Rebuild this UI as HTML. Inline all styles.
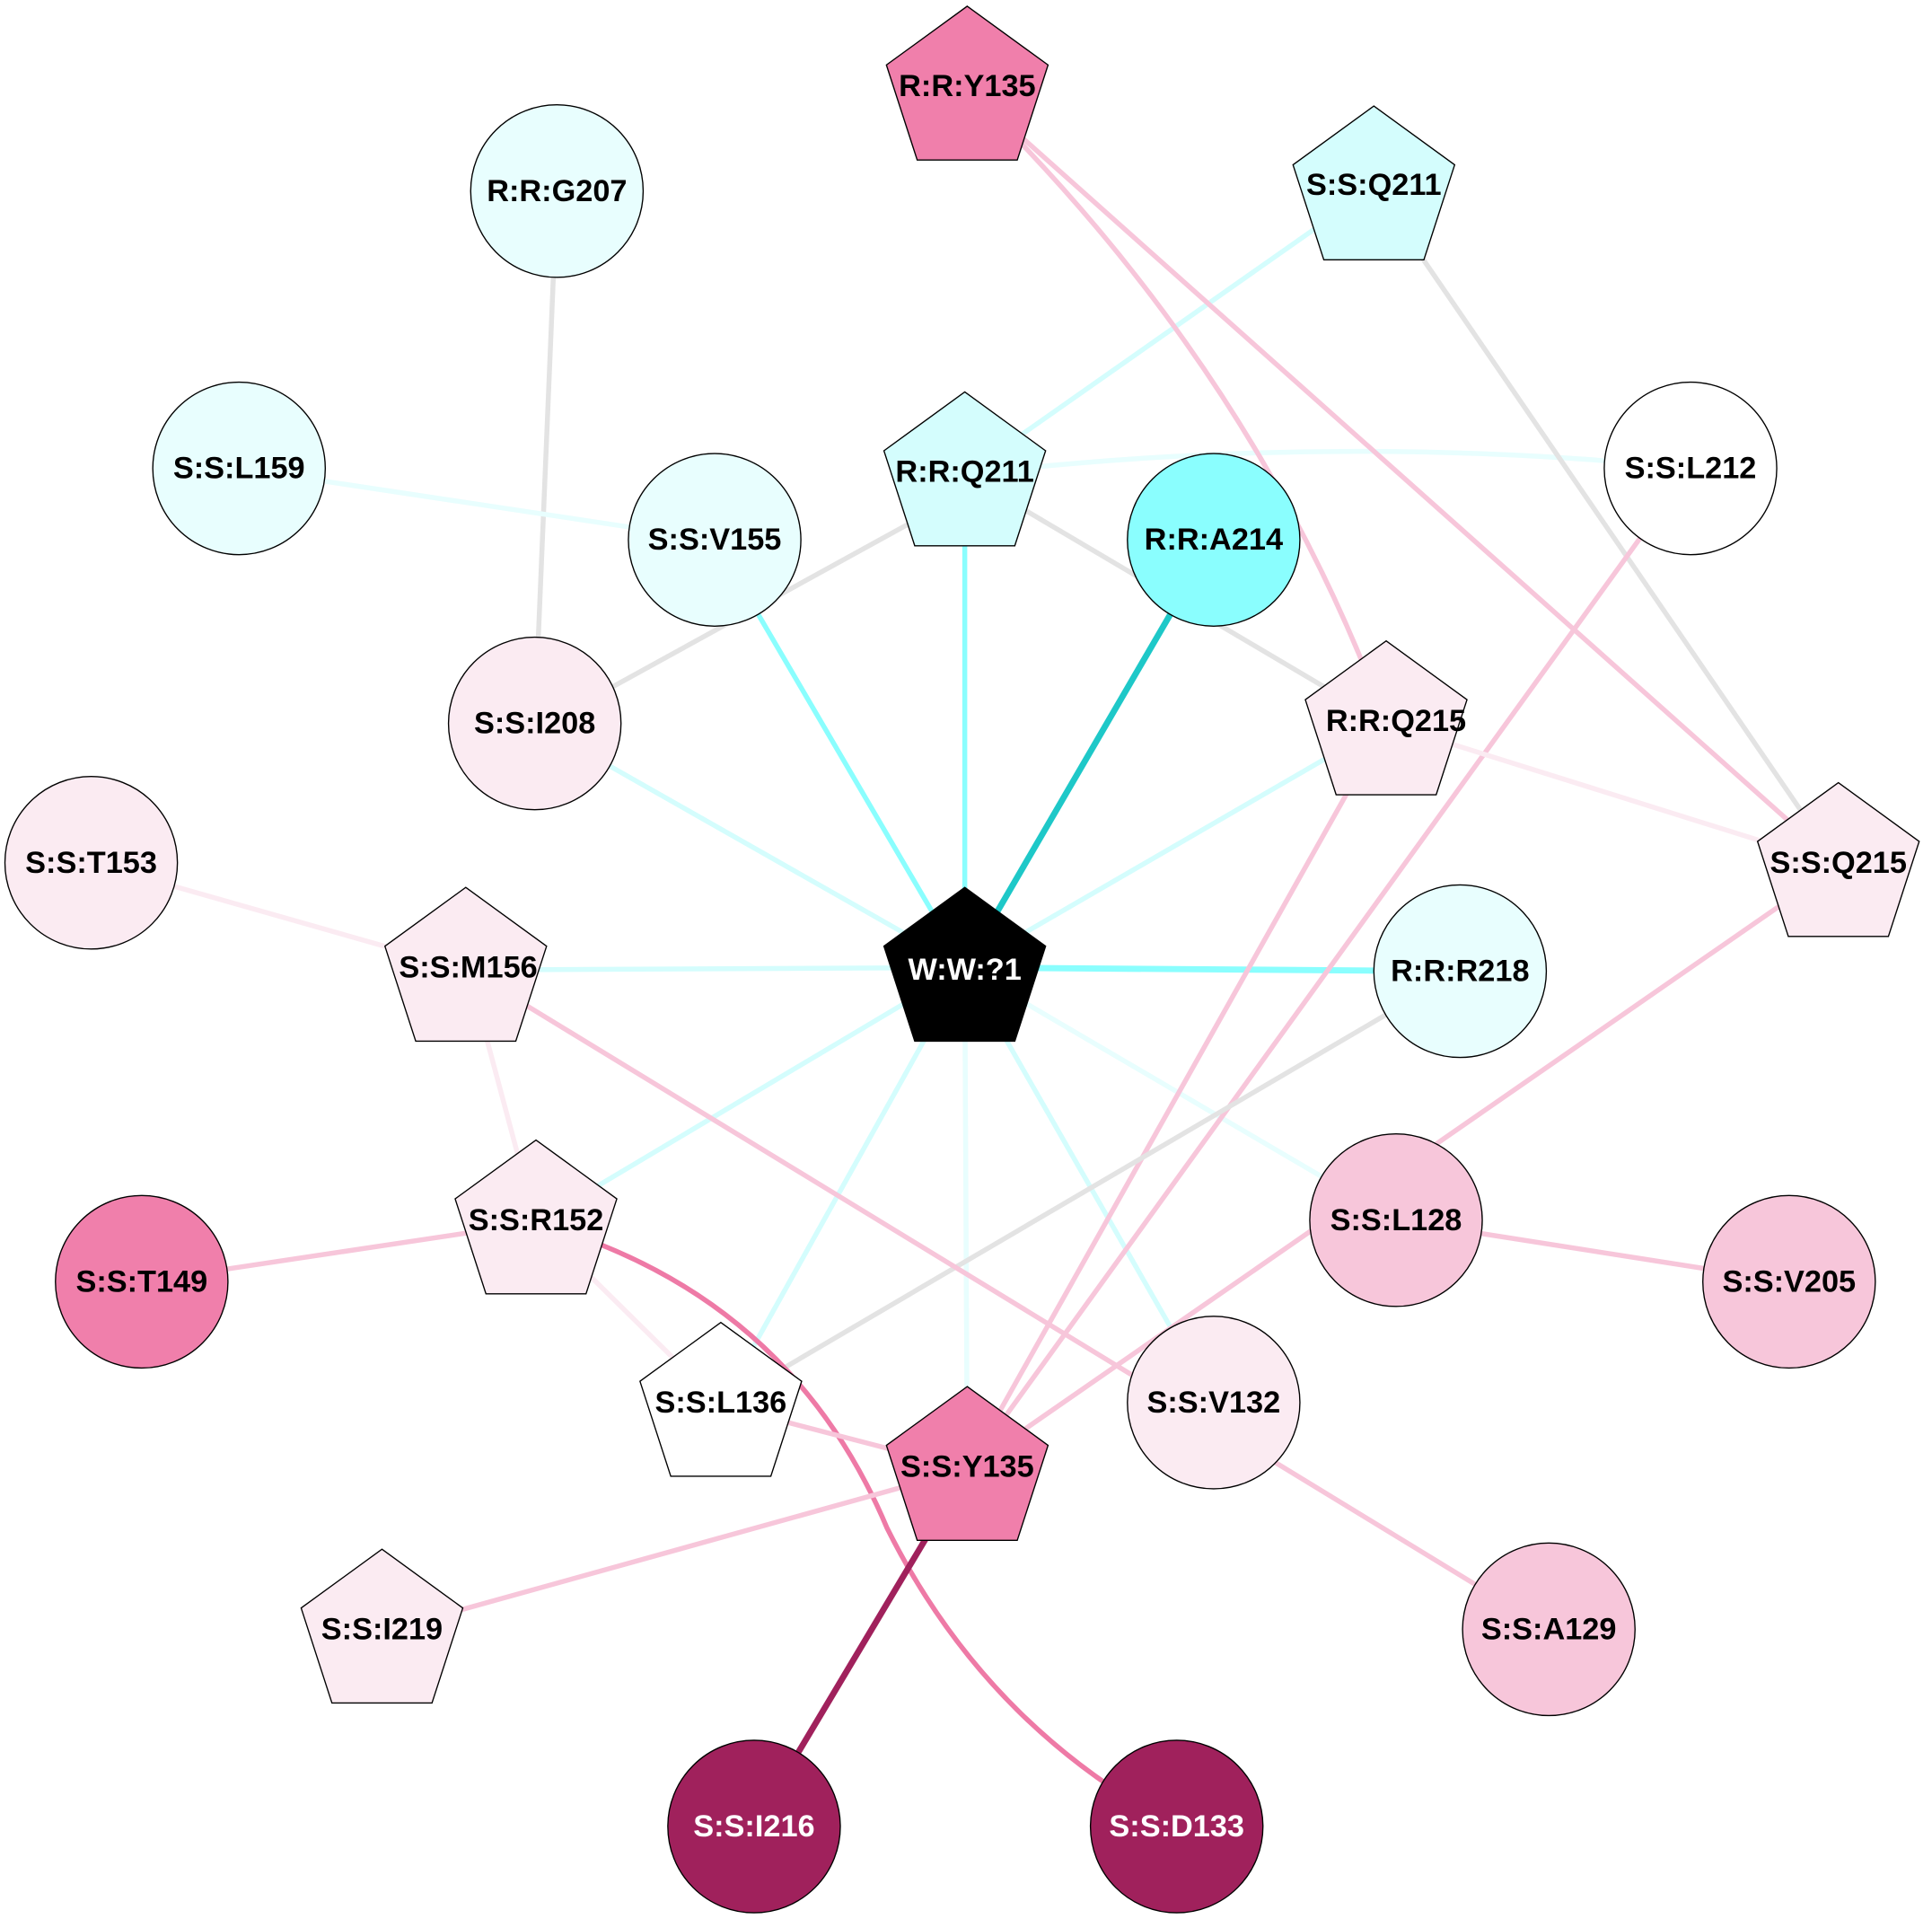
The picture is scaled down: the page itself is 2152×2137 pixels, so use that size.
<!DOCTYPE html>
<html><head><meta charset="utf-8"><style>html,body{margin:0;padding:0;background:#fff}svg{display:block}</style></head>
<body>
<svg width="2152" height="2137" viewBox="0 0 1568 1557" xmlns="http://www.w3.org/2000/svg" font-family="Liberation Sans, Arial, sans-serif" font-weight="bold" font-size="25">
<g fill="none" stroke-width="4">
<line x1="783" y1="785" x2="580" y2="438" stroke="#8afefe"/>
<line x1="783" y1="785" x2="783" y2="383" stroke="#8afefe"/>
<line x1="783" y1="785" x2="985" y2="438" stroke="#1ec8c8" stroke-width="5"/>
<line x1="783" y1="785" x2="434" y2="587" stroke="#d4fdfd"/>
<line x1="783" y1="785" x2="1125" y2="587" stroke="#d4fdfd"/>
<line x1="783" y1="785" x2="380" y2="787" stroke="#d4fdfd"/>
<line x1="783" y1="785" x2="1185" y2="788" stroke="#8afefe" stroke-width="5"/>
<line x1="783" y1="785" x2="435" y2="992" stroke="#d4fdfd"/>
<line x1="783" y1="785" x2="585" y2="1140" stroke="#d4fdfd"/>
<line x1="783" y1="785" x2="785" y2="1192" stroke="#e8fefe"/>
<line x1="783" y1="785" x2="985" y2="1138" stroke="#d4fdfd"/>
<line x1="783" y1="785" x2="1133" y2="990" stroke="#e8fefe"/>
<line x1="452" y1="155" x2="434" y2="587" stroke="#e3e3e3"/>
<line x1="194" y1="380" x2="580" y2="438" stroke="#e8fefe"/>
<line x1="1115" y1="152" x2="783" y2="385" stroke="#d4fdfd"/>
<path d="M783 385 Q1080 350 1372 380" stroke="#e8fefe"/>
<line x1="783" y1="400" x2="434" y2="592" stroke="#e3e3e3"/>
<line x1="783" y1="385" x2="1125" y2="587" stroke="#e3e3e3"/>
<line x1="1115" y1="152" x2="1492" y2="702" stroke="#e3e3e3"/>
<path d="M785 72 Q1020 300 1125 587" stroke="#f7c6da"/>
<line x1="785" y1="72" x2="1492" y2="702" stroke="#f7c6da"/>
<line x1="1372" y1="380" x2="785" y2="1192" stroke="#f7c6da"/>
<line x1="1125" y1="587" x2="785" y2="1192" stroke="#f7c6da"/>
<line x1="1125" y1="587" x2="1492" y2="702" stroke="#fbebf2"/>
<line x1="1492" y1="702" x2="785" y2="1192" stroke="#f7c6da"/>
<line x1="1185" y1="788" x2="585" y2="1140" stroke="#e3e3e3"/>
<line x1="74" y1="700" x2="380" y2="787" stroke="#fbebf2"/>
<line x1="380" y1="787" x2="435" y2="992" stroke="#fbebf2"/>
<line x1="380" y1="787" x2="1257" y2="1322" stroke="#f7c6da"/>
<line x1="115" y1="1040" x2="435" y2="992" stroke="#f7c6da"/>
<line x1="435" y1="992" x2="585" y2="1140" stroke="#fbebf2"/>
<path d="M435 992 Q640 1050 720 1240 Q800 1400 955 1482" stroke="#ee7aa6"/>
<line x1="585" y1="1140" x2="785" y2="1192" stroke="#f7c6da"/>
<line x1="785" y1="1192" x2="310" y2="1324" stroke="#f7c6da"/>
<line x1="785" y1="1192" x2="612" y2="1482" stroke="#a0215c" stroke-width="5"/>
<line x1="1133" y1="990" x2="1452" y2="1040" stroke="#f7c6da"/>
</g>
<g stroke="#000" stroke-width="1">
<circle cx="452" cy="155" r="70" fill="#e8fefe"/>
<circle cx="194" cy="380" r="70" fill="#e8fefe"/>
<circle cx="1372" cy="380" r="70" fill="#fff"/>
<circle cx="580" cy="438" r="70" fill="#e8fefe"/>
<circle cx="985" cy="438" r="70" fill="#8afefe"/>
<circle cx="434" cy="587" r="70" fill="#fbebf2"/>
<circle cx="74" cy="700" r="70" fill="#fbebf2"/>
<circle cx="1185" cy="788" r="70" fill="#e8fefe"/>
<circle cx="115" cy="1040" r="70" fill="#f07fab"/>
<circle cx="1133" cy="990" r="70" fill="#f7c6da"/>
<circle cx="1452" cy="1040" r="70" fill="#f7c6da"/>
<circle cx="985" cy="1138" r="70" fill="#fbebf2"/>
<circle cx="1257" cy="1322" r="70" fill="#f7c6da"/>
<circle cx="612" cy="1482" r="70" fill="#a0215c"/>
<circle cx="955" cy="1482" r="70" fill="#a0215c"/>
</g>
<g stroke="#000" stroke-width="1" id="pents"></g>
<g text-anchor="middle" dominant-baseline="central" fill="#000">
<text x="785" y="70">R:R:Y135</text>
<text x="452" y="155">R:R:G207</text>
<text x="1115" y="150">S:S:Q211</text>
<text x="194" y="380">S:S:L159</text>
<text x="783" y="383">R:R:Q211</text>
<text x="1372" y="380">S:S:L212</text>
<text x="580" y="438">S:S:V155</text>
<text x="985" y="438">R:R:A214</text>
<text x="434" y="587">S:S:I208</text>
<text x="1133" y="585">R:R:Q215</text>
<text x="74" y="700">S:S:T153</text>
<text x="1492" y="700">S:S:Q215</text>
<text x="380" y="785">S:S:M156</text>
<text x="783" y="787" fill="#fff">W:W:?1</text>
<text x="1185" y="788">R:R:R218</text>
<text x="115" y="1040">S:S:T149</text>
<text x="435" y="990">S:S:R152</text>
<text x="1133" y="990">S:S:L128</text>
<text x="1452" y="1040">S:S:V205</text>
<text x="585" y="1138">S:S:L136</text>
<text x="985" y="1138">S:S:V132</text>
<text x="785" y="1190">S:S:Y135</text>
<text x="310" y="1322">S:S:I219</text>
<text x="1257" y="1322">S:S:A129</text>
<text x="612" y="1482" fill="#fff">S:S:I216</text>
<text x="955" y="1482" fill="#fff">S:S:D133</text>
</g>
<script>
var P=[[785,74,"#f07fab"],[1115,155,"#d4fdfd"],[783,387,"#d4fdfd"],[1125,589,"#fbebf2"],[1492,704,"#fbebf2"],[378,789,"#fbebf2"],[783,789,"#000"],[435,994,"#fbebf2"],[585,1142,"#fff"],[785,1194,"#f07fab"],[310,1326,"#fbebf2"]];
var g=document.getElementById('pents'),R=69;
P.forEach(function(p){var pts=[];for(var i=0;i<5;i++){var a=-Math.PI/2+i*2*Math.PI/5;pts.push((p[0]+R*Math.cos(a)).toFixed(1)+','+(p[1]+R*Math.sin(a)).toFixed(1));}
var e=document.createElementNS('http://www.w3.org/2000/svg','polygon');e.setAttribute('points',pts.join(' '));e.setAttribute('fill',p[2]);g.appendChild(e);});
</script>
</svg>
</body></html>
